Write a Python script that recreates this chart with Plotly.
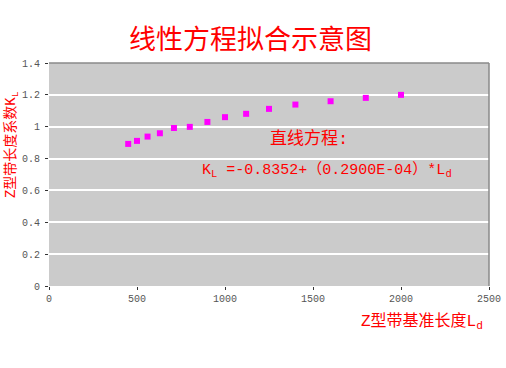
import plotly.graph_objects as go

# Data
belt_length = [450, 500, 560, 630, 710, 800, 900, 1000, 1120, 1250, 1400, 1600, 1800, 2000]
kl_values = [0.892, 0.911, 0.938, 0.959, 0.992, 0.999, 1.030, 1.060, 1.081, 1.112, 1.139, 1.160, 1.181, 1.200]

x_ticks = [0, 500, 1000, 1500, 2000, 2500]
y_ticks = [0, 0.2, 0.4, 0.6, 0.8, 1, 1.2, 1.4]
y_tick_text = ["0", "0.2", "0.4", "0.6", "0.8", "1", "1.2", "1.4"]

title_text = "线性方程拟合示意图"
x_title = "Z型带基准长度L<sub>d</sub>"
y_title = "Z型带长度系数K<sub>L</sub>"
eq_line1 = "直线方程:"
eq_line2 = "K<sub>L</sub> =-0.8352+（0.2900E-04）*L<sub>d</sub>"

CJK = "Noto Sans CJK SC"
MIXED = "Liberation Mono, Noto Sans CJK SC"
RED = "#ff0000"

fig = go.Figure()
fig.add_trace(go.Scatter(
    x=belt_length, y=kl_values, mode="markers",
    marker=dict(symbol="square", size=6, color="#ff00ff",
                line=dict(width=0)),
    showlegend=False, hoverinfo="x+y"))

fig.update_layout(
    width=506, height=368,
    autosize=False,
    margin=dict(l=49, r=17, t=63, b=82, autoexpand=False),
    paper_bgcolor="white",
    plot_bgcolor="#cbcbcb",
    font=dict(family="Liberation Mono", size=10, color="#444444"),
    xaxis=dict(range=[0, 2500], tickvals=x_ticks, ticks="outside", ticklen=3,
               tickcolor="#333", showgrid=False, zeroline=False, showline=False,
               automargin=False,
               tickfont=dict(family="Liberation Mono", size=10, color="#555")),
    yaxis=dict(range=[0, 1.4], tickvals=y_ticks, ticktext=y_tick_text,
               ticks="outside", ticklen=3, tickcolor="#333",
               ticklabelstandoff=3, automargin=False,
               showgrid=True, gridcolor="white", gridwidth=1.5,
               zeroline=False, showline=False,
               tickfont=dict(family="Liberation Mono", size=10, color="#555")),
    shapes=[
        dict(type="line", xref="paper", yref="paper", x0=0, x1=1, y0=1, y1=1,
             line=dict(color="#8a8a8a", width=1.5)),
        dict(type="line", xref="paper", yref="paper", x0=1, x1=1, y0=0, y1=1,
             line=dict(color="#8a8a8a", width=1.5)),
    ],
    annotations=[
        dict(text=title_text, xref="paper", yref="paper", x=0.457, y=1,
             xanchor="center", yshift=26, yanchor="middle", showarrow=False,
             font=dict(family=CJK, size=27, color=RED)),
        dict(text=y_title, xref="paper", yref="paper", x=0, y=0.632,
             xanchor="center", yanchor="middle",
             xshift=-37, textangle=-90, showarrow=False,
             font=dict(family=MIXED, size=14, color=RED)),
        dict(text=x_title, xref="paper", yref="paper", x=1, y=0,
             xanchor="right", xshift=-4, yshift=-36, yanchor="middle",
             showarrow=False,
             font=dict(family=MIXED, size=16, color=RED)),
        dict(text=eq_line1, xref="paper", yref="paper", x=0.498, y=0.658,
             xanchor="left", yanchor="middle", showarrow=False,
             font=dict(family=MIXED, size=17, color=RED)),
        dict(text=eq_line2, xref="paper", yref="paper", x=0.343, y=0.52,
             xanchor="left", yanchor="middle", showarrow=False,
             font=dict(family=MIXED, size=15, color=RED)),
    ],
)

fig.write_html("out.html",
               config={"displayModeBar": False},
               post_script="document.body.style.margin='0';document.body.style.padding='0';")
